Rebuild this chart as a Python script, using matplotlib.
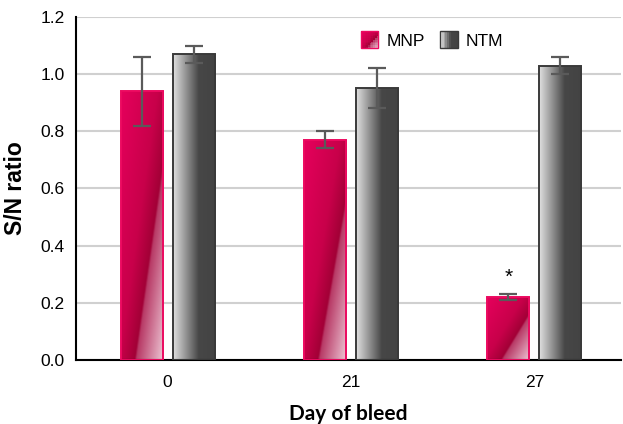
import numpy as np
import matplotlib
matplotlib.use("Agg")
import matplotlib.pyplot as plt
from matplotlib.colors import LinearSegmentedColormap
from matplotlib.patches import Rectangle
from matplotlib.legend_handler import HandlerBase

days = ["0", "21", "27"]
mnp = [0.94, 0.77, 0.22]
mnp_err = [0.12, 0.03, 0.01]
ntm = [1.07, 0.95, 1.03]
ntm_err = [0.03, 0.07, 0.03]
star_day = 2

plt.rcParams['font.family'] = ['Liberation Sans', 'DejaVu Sans']

mnp_cmap = LinearSegmentedColormap.from_list(
    "mnp", [(0.0, "#e6005c"), (0.45, "#c8004a"), (0.64, "#a20036"),
            (0.665, "#b83a66"), (1.0, "#eec8d6")])
ntm_cmap = LinearSegmentedColormap.from_list(
    "ntm", [(0.0, "#e0e0e0"), (0.6, "#474747"), (1.0, "#434343")])


def mnp_grad(n=200):
    u, v = np.meshgrid(np.linspace(0, 1, n), np.linspace(0, 1, n))
    # v = 0 on the top row (imshow origin upper)
    return (v + 1.12 * u) / 2.12


def ntm_grad(n=200):
    u, v = np.meshgrid(np.linspace(0, 1, n), np.linspace(0, 1, n))
    return u


fig = plt.figure(figsize=(6.23, 4.24), dpi=100)
ax = fig.add_axes([0.122, 0.151, 0.874, 0.809])

x = np.arange(len(days))
w = 0.23
off = 0.142

for vals, errs, xs, cmap, grad, ec in [
        (mnp, mnp_err, x - off, mnp_cmap, mnp_grad, "#ec0a60"),
        (ntm, ntm_err, x + off, ntm_cmap, ntm_grad, "#3a3a3a")]:
    bars = ax.bar(xs, vals, w, facecolor="none", edgecolor=ec,
                  linewidth=1.4, zorder=3)
    for b in bars:
        x0, y0 = b.get_x(), b.get_y()
        im = ax.imshow(grad(), cmap=cmap, vmin=0, vmax=1, aspect="auto",
                       extent=[x0, x0 + b.get_width(), y0, y0 + b.get_height()],
                       zorder=2, interpolation="bilinear")
        im.set_clip_path(b)
    ax.errorbar(xs, vals, yerr=errs, fmt="none", ecolor="#5a5a5a",
                elinewidth=1.6, capsize=6.5, capthick=1.6, zorder=4)

ax.set_xlim(-0.5, 2.47)
ax.set_ylim(0, 1.2)

ax.text(x[star_day] - off, mnp[star_day] + mnp_err[star_day] + 0.06, "*",
        ha="center", va="center", fontsize=15)

ax.set_yticks(np.arange(0, 1.21, 0.2))
ax.set_yticklabels(["%.1f" % t for t in np.arange(0, 1.21, 0.2)])
ax.set_xticks(x)
ax.set_xticklabels(days)
ax.tick_params(length=0, labelsize=12.5, pad=8)
ax.tick_params(axis="x", pad=11)
ax.yaxis.grid(True, color="#d0d0d0", linewidth=1.5, zorder=0)
ax.set_axisbelow(True)
for s in ["top", "right"]:
    ax.spines[s].set_visible(False)
for s in ["left", "bottom"]:
    ax.spines[s].set_linewidth(1.5)
    ax.spines[s].set_color("black")

ax.set_ylabel("S/N ratio", fontsize=16.5, fontweight="bold", labelpad=10)
ax.set_xlabel("Day of bleed", fontsize=15, fontweight="bold",
              family=["Lato", "DejaVu Sans"], labelpad=10)


class GradHandler(HandlerBase):
    def __init__(self, cmap, grad, ec):
        super().__init__()
        self.cmap = cmap
        self.grad = grad
        self.ec = ec

    def create_artists(self, legend, orig_handle, xdescent, ydescent,
                       width, height, fontsize, trans):
        side = min(width, height)
        x0 = -xdescent + (width - side) / 2
        y0 = -ydescent + (height - side) / 2
        n = 10
        g = self.grad(n)
        arts = []
        for i in range(n):
            for j in range(n):
                c = self.cmap(g[n - 1 - j, i])
                arts.append(Rectangle((x0 + side * i / n, y0 + side * j / n),
                                      side / n + 0.2, side / n + 0.2,
                                      facecolor=c, edgecolor="none",
                                      transform=trans))
        arts.append(Rectangle((x0, y0), side, side, facecolor="none",
                              edgecolor=self.ec, linewidth=1.0,
                              transform=trans))
        return arts


h1 = Rectangle((0, 0), 1, 1)
h2 = Rectangle((0, 0), 1, 1)
ax.legend([h1, h2], ["MNP", "NTM"],
          handler_map={h1: GradHandler(mnp_cmap, mnp_grad, "#ec0a60"),
                       h2: GradHandler(ntm_cmap, ntm_grad, "#3a3a3a")},
          loc="center", bbox_to_anchor=(0.653, 0.933), ncol=2,
          frameon=False, fontsize=12.5, handlelength=1.15, handleheight=1.15,
          handletextpad=0.4, columnspacing=0.8)

fig.savefig("out.png", dpi=100)
